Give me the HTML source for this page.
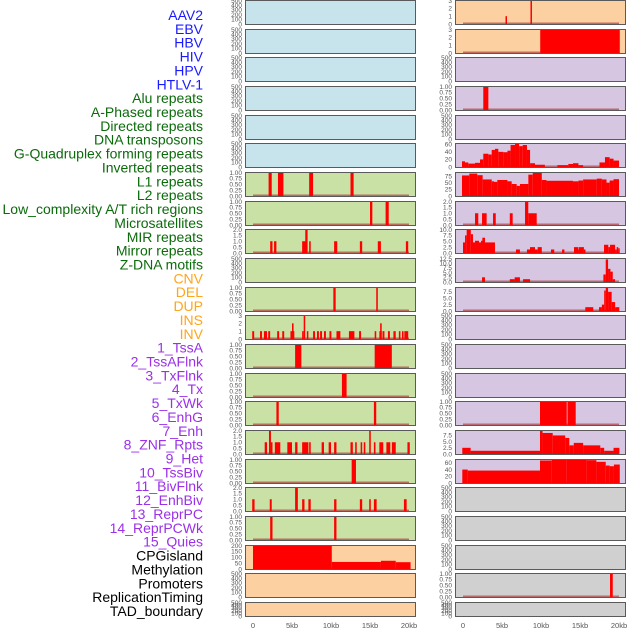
<!DOCTYPE html>
<html><head><meta charset="utf-8"><style>
html,body{margin:0;padding:0;background:#fff;width:630px;height:630px;overflow:hidden}
svg{display:block;font-family:"Liberation Sans",sans-serif}
</style></head><body>
<svg id="chart" width="630" height="630"></svg>
<script>
// ---- data (segments: [startKb, endKb, value]) ----
const trackLabels = ["AAV2","EBV","HBV","HIV","HPV","HTLV-1","Alu repeats","A-Phased repeats","Directed repeats","DNA transposons","G-Quadruplex forming repeats","Inverted repeats","L1 repeats","L2 repeats","Low_complexity A/T rich regions","Microsatellites","MIR repeats","Mirror repeats","Z-DNA motifs","CNV","DEL","DUP","INS","INV","1_TssA","2_TssAFlnk","3_TxFlnk","4_Tx","5_TxWk","6_EnhG","7_Enh","8_ZNF_Rpts","9_Het","10_TssBiv","11_BivFlnk","12_EnhBiv","13_ReprPC","14_ReprPCWk","15_Quies","CPGisland","Methylation","Promoters","ReplicationTiming","TAD_boundary"];
const labelGroups = [0,0,0,0,0,0,1,1,1,1,1,1,1,1,1,1,1,1,1,2,2,2,2,2,3,3,3,3,3,3,3,3,3,3,3,3,3,3,3,4,4,4,4,4];
const xTicks = [0,5,10,15,20];
const xTickLabels = ["0","5kb","10kb","15kb","20kb"];

const alu = [[2.0,2.4,1],[3.2,3.9,1],[7.2,7.7,1],[12.5,12.9,1]];
const aphased = [[15.0,15.3,1],[17.0,17.4,1]];
const directed = [[2.2,2.5,1],[2.7,3.0,1],[6.3,6.8,1],[6.7,7.0,2],[7.2,7.4,1],[10.4,10.8,1],[13.7,14.0,1],[16.0,16.4,1],[19.6,19.9,1]];
const gquad = [[10.3,10.6,1],[15.8,16.0,1]];
const inverted = [[-0.1,0.15,1],[0.9,1.15,1],[1.4,1.8,1],[1.95,2.2,1],[3.1,3.35,1],[3.75,4.0,1],[4.8,5.3,1],[5.0,5.2,2],[6.3,6.5,1],[6.5,6.65,3],[6.9,7.1,1],[7.7,7.95,1],[8.2,8.45,1],[8.6,8.85,1],[9.1,9.35,1],[9.8,10.05,1],[10.7,11.2,1],[12.3,13.0,1],[13.6,13.85,1],[15.6,15.8,1],[16.2,16.5,1],[16.3,16.5,2],[16.6,16.85,1],[17.3,17.55,1],[18.0,18.3,1],[18.7,18.9,1],[19.1,19.3,1],[19.4,19.9,1]];
const l1 = [[5.4,6.2,1],[15.6,17.8,1]];
const l2 = [[11.4,12.0,1]];
const lowcomplex = [[3.0,3.3,1],[15.5,15.8,1]];
const microsat = [[1.5,1.8,1],[2.05,2.3,2],[2.3,2.5,1],[2.8,3.5,1],[4.4,5.0,1],[5.4,5.7,1],[6.3,7.1,1],[7.2,7.4,1],[8.8,9.1,1],[9.7,10.0,1],[10.4,10.7,1],[12.5,12.8,1],[13.1,13.3,1],[13.8,14.0,1],[14.2,14.4,1],[14.9,15.1,2],[15.5,15.7,1],[16.2,16.7,1],[17.1,17.6,1],[17.8,18.3,1],[19.8,20.1,1]];
const mir = [[12.65,13.2,1]];
const mirror = [[-0.1,0.2,1],[2.15,2.4,1],[5.4,5.75,2],[6.3,6.6,1],[7.1,7.4,1],[10.4,10.7,1],[13.7,14.0,1],[14.9,15.1,1],[15.5,15.85,1],[19.35,19.7,1]];
const zdna = [[2.2,2.5,1],[10.4,10.7,1]];
const cnv = [[0,10.1,200],[10.1,16.4,60],[16.4,18.3,70],[18.3,20.2,58]];
const ins = [[5.45,5.6,1],[8.65,8.8,3]];
const inv = [[9.9,20.1,3]];
const tssaflnk = [[2.6,3.25,1]];
const tx = [[-0.13,0.26,15],[0.26,0.68,12],[0.68,1.54,9],[1.54,2.18,11],[2.18,2.6,20],[2.6,3.25,35],[3.25,3.68,33],[3.68,4.1,45],[4.1,4.53,48],[4.53,5.17,40],[5.17,5.7,39],[5.7,6.1,43],[6.1,6.67,58],[6.67,7.2,62],[7.2,7.65,55],[7.65,8.2,58],[8.2,8.6,45],[8.6,9.23,10],[9.23,10.5,6],[12.1,13.5,5],[13.5,14.1,8],[14.1,14.8,10],[14.8,15.4,5],[17.5,18.2,12],[18.2,18.8,26],[18.8,19.3,22],[19.3,20.0,17]];
const txwk = [[-0.13,0.81,77],[0.81,1.83,84],[1.83,2.52,78],[2.52,3.68,62],[3.68,3.97,55],[3.97,4.4,53],[4.4,5.7,60],[5.7,6.24,55],[6.24,6.88,45],[6.88,7.3,38],[7.3,8.38,45],[8.38,8.94,80],[8.94,10.1,88],[10.1,10.7,60],[10.7,14.1,57],[14.1,14.8,55],[14.8,15.4,58],[15.4,17.14,62],[17.14,17.8,65],[17.8,18.4,62],[18.4,18.8,50],[18.8,19.3,58],[19.3,20.0,63]];
const enhg = [[1.54,1.96,1],[2.44,3.03,1],[3.85,4.2,1],[6.0,6.37,1],[7.95,8.37,2],[8.37,9.45,1]];
const enh = [[0,0.26,4.5],[0.26,0.47,7.5],[0.47,1.0,10],[1.0,1.28,8],[1.28,1.54,4.5],[1.54,2.05,5.2],[2.05,2.31,4.5],[2.31,2.48,5.2],[2.48,2.82,6.5],[2.82,4.1,4.5],[6.79,7.3,1.5],[8.2,8.59,1.5],[8.59,9.23,2.5],[9.23,9.57,1.5],[9.57,10.1,2.5],[11.28,11.7,1.5],[12.7,13.0,1.5],[14.23,14.8,2.5],[14.8,14.87,1.5],[14.87,15.5,2.5],[15.5,15.7,1.5],[18.08,18.63,3.5],[18.63,18.85,2.5],[18.85,19.5,3.5],[19.5,19.7,1.5],[19.7,19.9,2.5],[19.9,20.04,2]];
const znf = [[2.44,2.82,2.5],[6.0,6.62,1.5],[6.62,7.3,2.5],[7.7,8.6,1.5],[18.0,18.3,4],[18.3,18.6,12],[18.6,18.9,7],[18.9,19.2,5.5],[19.2,19.5,1.5]];
const het = [[15.68,16.7,1.5],[17.44,17.8,1.5],[17.8,18.1,2.5],[18.1,18.3,8],[18.3,18.6,9],[18.6,19.06,7.5],[19.06,19.5,3.5],[19.5,20.04,1.5]];
const reprpc = [[9.87,13.3,1],[13.4,14.45,1]];
const reprpcwk = [[-0.09,0.98,2.5],[0.98,9.87,1.3],[9.87,10.2,9.3],[10.2,11.5,8.5],[11.5,13.1,7.5],[13.1,13.63,6.5],[13.63,14.2,3.5],[14.2,15.4,4.5],[15.4,17.6,3.5],[17.6,18.1,2.5],[18.1,19.3,1.3],[19.3,20.05,2.5]];
const quies = [[-0.09,0.6,40],[0.6,9.87,37],[9.87,11.37,67],[11.37,13.3,70],[13.3,15.85,70],[15.85,17.1,68],[17.1,18.3,63],[18.3,18.8,52],[18.8,19.35,50],[19.35,20.1,55]];
const reptiming = [[18.85,19.2,1]];

const tk1 = ["0.00","0.25","0.50","0.75","1.00"], tkv1=[0,0.25,0.5,0.75,1];
const tk2 = ["0.0","0.5","1.0","1.5","2.0"], tkv2=[0,0.5,1,1.5,2];
const tk3 = ["0","1","2","3"], tkv3=[0,1,2,3];
const tkE = ["0","100","200","300","400","500"], tkvE=[0,100,200,300,400,500];

// panels: [column,row,bg,data,ymax,tickLabels,tickValues,name]
const BLUE="#c7e4ec",GREEN="#c9e1a5",ORANGE="#fdd0a2",PURPLE="#d6c6e2",GREY="#d0d0d0";
const panels = [
 [0,0,BLUE,null],[0,1,BLUE,null],[0,2,BLUE,null],[0,3,BLUE,null],[0,4,BLUE,null],[0,5,BLUE,null],
 [0,6,GREEN,alu,1,tk1,tkv1],[0,7,GREEN,aphased,1,tk1,tkv1],[0,8,GREEN,directed,2,tk2,tkv2],[0,9,GREEN,null],
 [0,10,GREEN,gquad,1,tk1,tkv1],[0,11,GREEN,inverted,3,tk3,tkv3],[0,12,GREEN,l1,1,tk1,tkv1],[0,13,GREEN,l2,1,tk1,tkv1],
 [0,14,GREEN,lowcomplex,1,tk1,tkv1],[0,15,GREEN,microsat,2,tk2,tkv2],[0,16,GREEN,mir,1,tk1,tkv1],[0,17,GREEN,mirror,2,tk2,tkv2],
 [0,18,GREEN,zdna,1,tk1,tkv1],[0,19,ORANGE,cnv,200,["0","50","100","150","200"],[0,50,100,150,200]],[0,20,ORANGE,null],[0,21,ORANGE,null],
 [1,0,ORANGE,ins,3,tk3,tkv3],[1,1,ORANGE,inv,3,tk3,tkv3],[1,2,PURPLE,null],[1,3,PURPLE,tssaflnk,1,tk1,tkv1],[1,4,PURPLE,null],
 [1,5,PURPLE,tx,62,["0","20","40","60"],[0,20,40,60]],[1,6,PURPLE,txwk,88,["0","25","50","75"],[0,25,50,75]],
 [1,7,PURPLE,enhg,2,tk2,tkv2],[1,8,PURPLE,enh,10,["0.0","2.5","5.0","7.5","10.0"],[0,2.5,5,7.5,10]],
 [1,9,PURPLE,znf,12.5,["0.0","2.5","5.0","7.5","10.0","12.5"],[0,2.5,5,7.5,10,12.5]],
 [1,10,PURPLE,het,9.2,["0.0","2.5","5.0","7.5"],[0,2.5,5,7.5]],[1,11,PURPLE,null],[1,12,PURPLE,null],[1,13,PURPLE,null],
 [1,14,PURPLE,reprpc,1,tk1,tkv1],[1,15,PURPLE,reprpcwk,9.5,["0.0","2.5","5.0","7.5"],[0,2.5,5,7.5]],
 [1,16,PURPLE,quies,70,["0","20","40","60"],[0,20,40,60]],
 [1,17,GREY,null],[1,18,GREY,null],[1,19,GREY,null],[1,20,GREY,reptiming,1,tk1,tkv1],[1,21,GREY,null]
];
const groupColors = ["#1a1aff","#0b6b0b","#ffa51a","#9b30e8","#000000"];

const NS="http://www.w3.org/2000/svg";
const svg=document.getElementById('chart');
function mk(tag,attrs,parent){const e=document.createElementNS(NS,tag);for(const k in attrs)e.setAttribute(k,attrs[k]);(parent||svg).appendChild(e);return e;}
const colX=[245,455], panelW=171, kb0=[253,463], pxPerKb=7.8;
function xScale(col,kb){return kb0[col]+kb*pxPerKb;}
function rowTop(r){return Math.round(r*28.67);}
function rowH(r){return r===21?15:25;}

// labels
trackLabels.forEach((t,i)=>{
  const el=mk('text',{x:203,y:15+i*13.86+5,'text-anchor':'end','font-size':14,fill:groupColors[labelGroups[i]]});
  el.textContent=t;
  
  
});

panels.forEach((p,idx)=>{
  const [col,row,bg,data,ymax0,tl,tv]=p;
  const ymax = data?ymax0:500;
  const ticks = data?tl:tkE, tvals = data?tv:tkvE;
  const T=rowTop(row),H=rowH(row),X=colX[col];
  const g=mk('g',{});
  
  
  mk('rect',{x:X,y:T,width:panelW,height:H,fill:bg},g);
  const y0=T+H-1, yTop=T+0.5;
  const ys=v=>y0-(v/ymax)*(y0-yTop);
  if(data){
    mk('line',{x1:xScale(col,0),x2:xScale(col,20),y1:y0-0.5,y2:y0-0.5,stroke:'#b04040','stroke-width':2,'stroke-opacity':0.7},g);
    data.forEach(s=>{
      const xa=xScale(col,s[0]),xb=xScale(col,s[1]);
      const r=mk('rect',{x:xa,y:ys(s[2]),width:Math.max(1.5,xb-xa),height:y0-ys(s[2])+0.5,fill:'#ff0000'},g);
      
      
    });
  }
  mk('rect',{x:X+0.5,y:T+0.5,width:panelW-1,height:H-1,fill:'none',stroke:'#5a5a5a','stroke-width':1},g);
  ticks.forEach((t,i)=>{
    const tx=mk('text',{x:X-3,y:ys(tvals[i])+2.3,'text-anchor':'end','font-size':6.5,fill:'#555'},g);
    tx.textContent=t;
  });
});

// x-axes
[0,1].forEach(col=>{
  xTicks.forEach((k,i)=>{
    const t=mk('text',{x:xScale(col,k),y:628,'text-anchor':'middle','font-size':7.5,fill:'#555'});
    t.textContent=xTickLabels[i];
    
    
  });
});
</script>
</body></html>
